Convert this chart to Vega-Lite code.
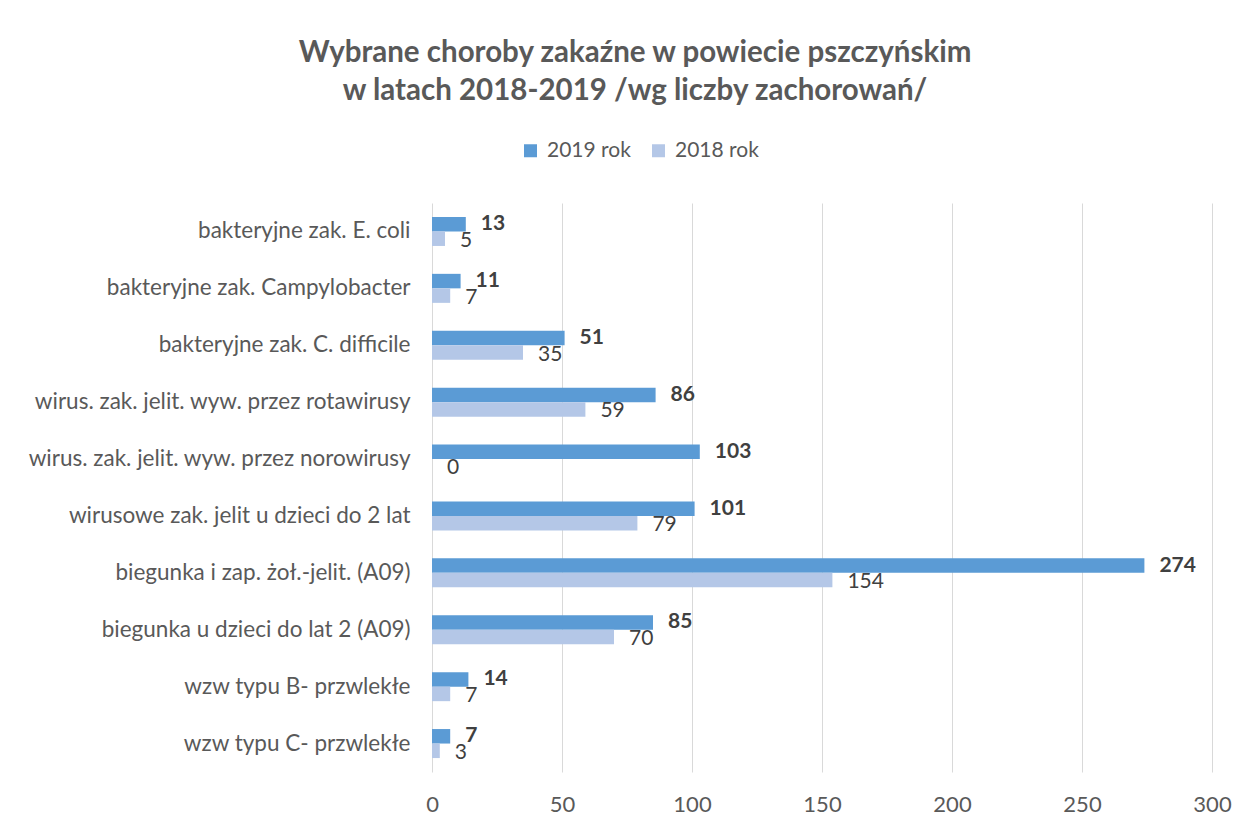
{
  "$schema": "https://vega.github.io/schema/vega-lite/v6.json",
  "width": 780,
  "height": 569,
  "autosize": {"type": "none"},
  "padding": {"left": 432, "top": 203, "right": 35, "bottom": 55},
  "background": "white",
  "title": {
    "text": ["Wybrane choroby zakaźne w powiecie pszczyńskim", "w latach 2018-2019 /wg liczby zachorowań/"],
    "anchor": "middle",
    "frame": "group",
    "dx": -187,
    "offset": 96,
    "dy": 91,
    "baseline": "bottom",
    "font": "Lato",
    "fontSize": 29.5,
    "fontWeight": "bold",
    "color": "#595959",
    "lineHeight": 38
  },
  "data": {
    "values": [
      {"cat": "bakteryjne zak. E. coli", "year": "2019 rok", "value": 13},
      {"cat": "bakteryjne zak. E. coli", "year": "2018 rok", "value": 5},
      {"cat": "bakteryjne zak. Campylobacter", "year": "2019 rok", "value": 11},
      {"cat": "bakteryjne zak. Campylobacter", "year": "2018 rok", "value": 7},
      {"cat": "bakteryjne zak. C. difficile", "year": "2019 rok", "value": 51},
      {"cat": "bakteryjne zak. C. difficile", "year": "2018 rok", "value": 35},
      {"cat": "wirus. zak. jelit. wyw. przez rotawirusy", "year": "2019 rok", "value": 86},
      {"cat": "wirus. zak. jelit. wyw. przez rotawirusy", "year": "2018 rok", "value": 59},
      {"cat": "wirus. zak. jelit. wyw. przez norowirusy", "year": "2019 rok", "value": 103},
      {"cat": "wirus. zak. jelit. wyw. przez norowirusy", "year": "2018 rok", "value": 0},
      {"cat": "wirusowe zak. jelit u dzieci do 2 lat", "year": "2019 rok", "value": 101},
      {"cat": "wirusowe zak. jelit u dzieci do 2 lat", "year": "2018 rok", "value": 79},
      {"cat": "biegunka i zap. żoł.-jelit. (A09)", "year": "2019 rok", "value": 274},
      {"cat": "biegunka i zap. żoł.-jelit. (A09)", "year": "2018 rok", "value": 154},
      {"cat": "biegunka u dzieci do lat 2 (A09)", "year": "2019 rok", "value": 85},
      {"cat": "biegunka u dzieci do lat 2 (A09)", "year": "2018 rok", "value": 70},
      {"cat": "wzw typu B- przwlekłe", "year": "2019 rok", "value": 14},
      {"cat": "wzw typu B- przwlekłe", "year": "2018 rok", "value": 7},
      {"cat": "wzw typu C- przwlekłe", "year": "2019 rok", "value": 7},
      {"cat": "wzw typu C- przwlekłe", "year": "2018 rok", "value": 3}
    ]
  },
  "encoding": {
    "y": {
      "field": "cat",
      "type": "nominal",
      "sort": null,
      "title": null,
      "scale": {"paddingInner": 0.49, "paddingOuter": 0.245},
      "axis": {
        "domain": false,
        "ticks": false,
        "labelPadding": 22,
        "labelFont": "Lato",
        "labelFontSize": 22.5,
        "labelColor": "#595959",
        "labelLimit": 430
      }
    },
    "x": {
      "field": "value",
      "type": "quantitative",
      "title": null,
      "scale": {"domain": [0, 300], "nice": false},
      "axis": {
        "values": [0, 50, 100, 150, 200, 250, 300],
        "domain": false,
        "ticks": false,
        "grid": true,
        "gridColor": "#d9d9d9",
        "gridWidth": 1,
        "labelFlush": false,
        "labelPadding": 22,
        "labelFont": "Lato",
        "labelFontSize": 22,
        "labelColor": "#595959"
      }
    },
    "yOffset": {"field": "year", "type": "nominal", "sort": ["2019 rok", "2018 rok"]}
  },
  "layer": [
    {
      "mark": {"type": "bar"},
      "encoding": {
        "color": {
          "field": "year",
          "type": "nominal",
          "sort": ["2019 rok", "2018 rok"],
          "scale": {"domain": ["2019 rok", "2018 rok"], "range": ["#5b9bd5", "#b4c7e7"]},
          "legend": {
            "title": null,
            "orient": "none",
            "direction": "horizontal",
            "legendX": 88,
            "legendY": -63,
            "symbolType": "square",
            "symbolSize": 169,
            "symbolStrokeWidth": 0,
            "labelFont": "Lato",
            "labelFontSize": 21,
            "labelColor": "#595959",
            "columnPadding": 17,
            "labelOffset": 6
          }
        }
      }
    },
    {
      "transform": [{"filter": "datum.year === '2019 rok'"}],
      "mark": {"type": "text", "align": "left", "baseline": "middle", "dx": 15, "font": "Lato", "fontSize": 21, "fontWeight": "bold", "color": "#404040"},
      "encoding": {"text": {"field": "value", "type": "quantitative"}}
    },
    {
      "transform": [{"filter": "datum.year === '2018 rok'"}],
      "mark": {"type": "text", "align": "left", "baseline": "middle", "dx": 15, "dy": 2, "font": "Lato", "fontSize": 21, "color": "#404040"},
      "encoding": {"text": {"field": "value", "type": "quantitative"}}
    }
  ],
  "config": {"view": {"stroke": null}}
}
